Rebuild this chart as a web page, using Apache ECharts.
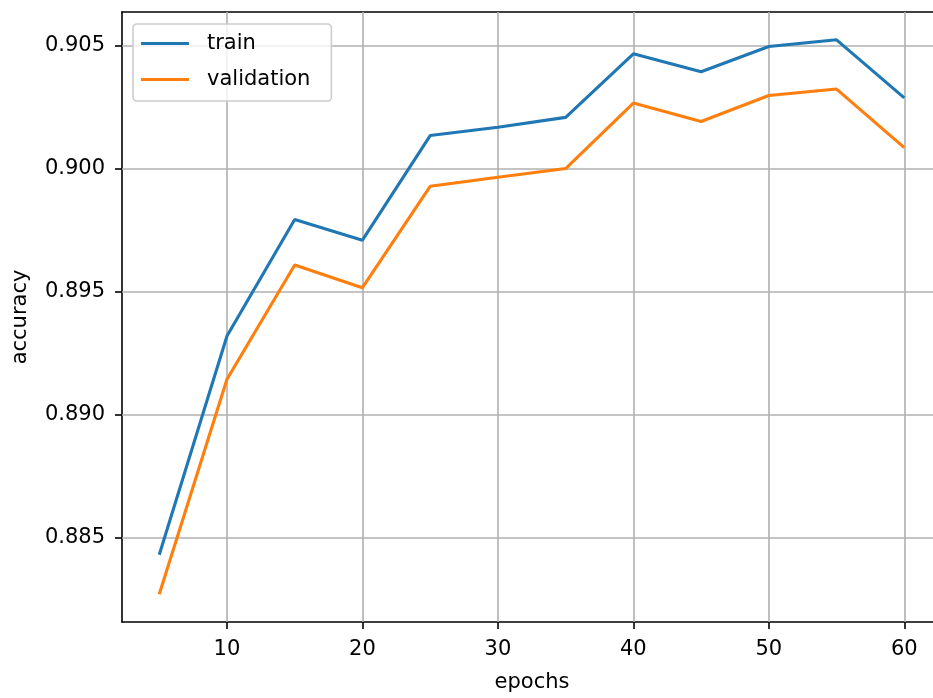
<!DOCTYPE html>
<html>
<head>
<meta charset="utf-8">
<script src="https://cdn.jsdelivr.net/npm/echarts@6/dist/echarts.min.js"></script>
<style>
html,body{margin:0;padding:0;background:#fff;}
#chart{width:933px;height:698px;}
</style>
</head>
<body>
<div id="chart"></div>
<script>
// Data
const epochs = [5, 10, 15, 20, 25, 30, 35, 40, 45, 50, 55, 60];
const train = [0.88431, 0.89320, 0.89793, 0.89709, 0.90134, 0.90168, 0.90208, 0.90466, 0.90393, 0.90496, 0.90523, 0.90287];
const validation = [0.88271, 0.89144, 0.89608, 0.89516, 0.89928, 0.89965, 0.90000, 0.90266, 0.90191, 0.90297, 0.90323, 0.90085];
const xTicks = [10, 20, 30, 40, 50, 60];
const yTicks = [0.885, 0.890, 0.895, 0.900, 0.905];

const FONT = 'DejaVu Sans';
// the reference figure is cropped on the right, so the visible x range ends at ~62.12
const X_MIN = 2.25, X_MAX = 62.12, Y_MIN = 0.88158, Y_MAX = 0.90636;
const chart = echarts.init(document.getElementById('chart'), null, {renderer: 'canvas'});

const pairs = (xs, ys) => xs.map((x, i) => [x, ys[i]]);
const gridLines = xTicks.map(x => ({coords: [[x, Y_MIN], [x, Y_MAX]]}))
  .concat(yTicks.map(y => ({coords: [[X_MIN, y], [X_MAX, y]]})));

const spine = {show: true, onZero: false, lineStyle: {color: '#000', width: 1.6}};

const option = {
  backgroundColor: '#ffffff',
  animation: false,
  textStyle: {fontFamily: FONT},
  grid: {left: 122, top: 12, bottom: 76, right: 0, show: false},
  legend: {
    orient: 'vertical',
    left: 133, top: 24,
    icon: 'rect', itemWidth: 48, itemHeight: 3, itemGap: 15,
    padding: [9, 21, 11, 8],
    backgroundColor: 'rgba(255,255,255,0.8)',
    borderColor: '#cccccc', borderWidth: 1.6, borderRadius: 4,
    textStyle: {fontFamily: FONT, fontSize: 21, color: '#000', padding: [0, 0, 0, 13]},
    data: ['train', 'validation']
  },
  xAxis: [{
    type: 'value', min: X_MIN, max: X_MAX, position: 'bottom',
    name: 'epochs', nameLocation: 'middle', nameGap: 50,
    nameTextStyle: {fontFamily: FONT, fontSize: 21, color: '#000', padding: [0, 0, 0, 9]},
    axisLine: spine,
    axisTick: {show: true, inside: false, length: 7, customValues: xTicks, lineStyle: {color: '#000', width: 1.6}},
    axisLabel: {show: true, customValues: xTicks, margin: 17, fontFamily: FONT, fontSize: 21, color: '#000'},
    splitLine: {show: false}
  }, {
    type: 'value', min: X_MIN, max: X_MAX, position: 'top',
    axisLine: spine, axisTick: {show: false}, axisLabel: {show: false}, splitLine: {show: false}
  }],
  yAxis: {
    type: 'value', min: Y_MIN, max: Y_MAX,
    name: 'accuracy', nameLocation: 'middle', nameGap: 91, nameRotate: 90,
    nameTextStyle: {fontFamily: FONT, fontSize: 21, color: '#000'},
    axisLine: spine,
    axisTick: {show: true, inside: false, length: 7, customValues: yTicks, lineStyle: {color: '#000', width: 1.6}},
    axisLabel: {show: true, customValues: yTicks, margin: 17, fontFamily: FONT, fontSize: 21, color: '#000',
      formatter: v => Number(v).toFixed(3)},
    splitLine: {show: false}
  },
  series: [
    {
      name: '__grid', type: 'lines', coordinateSystem: 'cartesian2d', xAxisIndex: 0, z: 1, silent: true,
      polyline: false, symbol: 'none',
      lineStyle: {color: '#b0b0b0', width: 1.6, opacity: 1, curveness: 0},
      data: gridLines
    },
    {
      name: 'train', type: 'line', data: pairs(epochs, train), z: 3, xAxisIndex: 0,
      showSymbol: false, symbol: 'none',
      lineStyle: {color: '#1f77b4', width: 3.1}, itemStyle: {color: '#1f77b4'}
    },
    {
      name: 'validation', type: 'line', data: pairs(epochs, validation), z: 3, xAxisIndex: 0,
      showSymbol: false, symbol: 'none',
      lineStyle: {color: '#ff7f0e', width: 3.1}, itemStyle: {color: '#ff7f0e'}
    }
  ]
};
chart.setOption(option);
</script>
</body>
</html>
